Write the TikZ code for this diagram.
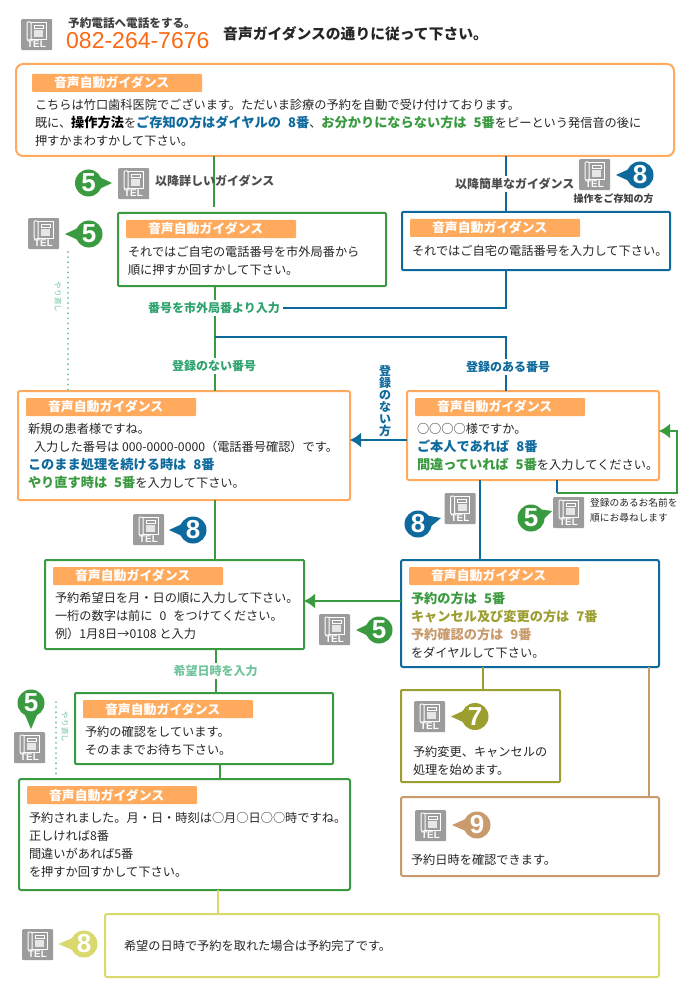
\documentclass[tikz,border=0pt]{standalone}
\usepackage{fontspec}
\setmainfont{Noto Sans CJK JP}
\newfontfamily\latinfont{Liberation Sans}
\usetikzlibrary{calc,arrows.meta}
\definecolor{cOrange}{HTML}{FFAA5C}
\definecolor{cGreen}{HTML}{3A9A3F}
\definecolor{cBlue}{HTML}{0E6A9C}
\definecolor{cOlive}{HTML}{9C9E30}
\definecolor{cTan}{HTML}{C89A6C}
\definecolor{cYellow}{HTML}{DAD96E}
\definecolor{cTeal}{HTML}{2FA36E}
\definecolor{cPale}{HTML}{72C49C}
\definecolor{cIcon}{HTML}{9C9C9C}
\definecolor{cPhone}{HTML}{FA6A14}
\newcommand{\strongtxt}[2]{{\fontsize{13.2}{18}\selectfont\bfseries\color{#1}#2}}
\newcommand{\bl}[1]{\strongtxt{cBlue}{#1}}
\newcommand{\gr}[1]{\strongtxt{cGreen}{#1}}
\newcommand{\gp}{\hspace{7pt}}
\tikzset{
  x=1pt,y=-1pt,
  flowbox/.style={draw=#1,line width=2pt,fill=white,inner sep=0pt,outer sep=0pt,rounded corners=1pt},
  tagbox/.style={fill=cOrange,rounded corners=1pt,inner sep=0pt,outer sep=0pt,minimum width=170pt,minimum height=18pt,
    text=white,font=\fontsize{12.9}{14}\selectfont\bfseries,text width=170pt,align=left},
  bodytext/.style={anchor=north west,inner sep=0pt,outer sep=0pt,align=left,font=\fontsize{12.2}{18}\selectfont,text=black!85},
  hint/.style={inner sep=0pt,font=\fontsize{12}{14}\selectfont\bfseries,text=#1},
  whitehint/.style={hint=#1,fill=white,inner xsep=3pt,inner ysep=2pt},
  conn/.style={draw=#1,line width=2pt},
  arrowconn/.style={draw=#1,line width=2pt,-{Latex[length=11pt,width=15pt]}},
  retry/.style={draw=cPale,line width=2pt,line cap=round,dash pattern=on 0.1pt off 5pt},
  retrytext/.style={inner sep=0pt,rotate=-90,font=\fontsize{7.6}{9}\selectfont,text=cPale},
  smallnote/.style={inner sep=0pt,anchor=west,font=\fontsize{9.7}{11}\selectfont,text=black!85},
}
% name, x1, y1, x2, y2, colour, corner radius
\newcommand{\flowbox}[7]{%
  \pgfmathsetmacro{\bw}{#4-#2}\pgfmathsetmacro{\bh}{#5-#3}%
  \node[flowbox=#6,rounded corners=#7,anchor=north west,minimum width=\bw pt,minimum height=\bh pt] (#1) at (#2,#3) {};}
% name, x, y
\newcommand{\tagbox}[3]{\node[tagbox,anchor=north west] (#1) at (#2,#3) {\hspace*{22pt}音声自動ガイダンス};}
% name, x, y
\newcommand{\telicon}[3]{%
  \node[fill=cIcon,rounded corners=1pt,inner sep=0pt,anchor=north west,minimum size=31pt] (#1) at (#2,#3) {};
  \begin{scope}[shift={(#1.north west)}]
    \draw[white,line width=1pt,rounded corners=1pt] (6,3) rectangle (10,21);
    \draw[white,line width=1pt] (10,3.5) -- (25,3.5) -- (25,20.5) -- (10,20.5);
    \draw[white,line width=0.8pt] (13,6) rectangle (22,9);
    \fill[white,opacity=.75] (13,11) rectangle (22,18);
  \end{scope}
  \node[inner sep=0pt,text=white,font=\latinfont\fontsize{9.8}{10}\selectfont\bfseries] (#1-t) at ($(#1.north west)+(15.5,25.5)$) {TEL};}
% name, cx, cy, tipx, tipy, digit, colour
\newcommand{\badge}[7]{%
  \coordinate (#1-tip) at (#4,#5);
  \coordinate (#1-c) at (#2,#3);
  \fill[#7] (#1-tip) -- ($(#1-c)!11pt!90:(#1-tip)$) -- ($(#1-c)!11pt!-90:(#1-tip)$) -- cycle;
  \node[circle,fill=#7,minimum size=27pt,inner sep=0pt,text=white,font=\latinfont\fontsize{26}{26}\selectfont\bfseries] (#1) at (#1-c) {#6};}
\begin{document}
\begin{tikzpicture}
\useasboundingbox (0,0) rectangle (690,1000);
\fill[white] (0,0) rectangle (690,1000);
% vertical guide positions
\coordinate (xa) at (213.5,0);
\coordinate (xb) at (505.5,0);
\coordinate (xc) at (480,0);
\coordinate (xd) at (214.5,0);
\coordinate (xe) at (215.5,0);
\coordinate (xf) at (219.5,0);
\coordinate (xg) at (218,0);
\coordinate (xh) at (483,0);
\coordinate (xi) at (649,0);
\coordinate (xj) at (557,0);
\coordinate (xk) at (677,0);
\coordinate (xl) at (68,0);
\coordinate (xm) at (56,0);
\coordinate (ya) at (0,207);
\coordinate (yb) at (0,308);
\coordinate (yc) at (0,337);
\coordinate (yd) at (0,493);
\coordinate (ye) at (0,431);
\coordinate (yf) at (0,440);
\coordinate (yg) at (0,601);
\coordinate (yh) at (0,252);
\coordinate (yi) at (0,702);
\coordinate (yj) at (0,778);
% boxes
\flowbox{top}{16}{64}{674}{156}{cOrange}{7pt}
\flowbox{gone}{118}{213}{386}{286}{cGreen}{1pt}
\flowbox{bone}{402}{212}{670}{270}{cBlue}{1pt}
\flowbox{onew}{18}{391}{350}{500}{cOrange}{2pt}
\flowbox{oreg}{407}{391}{659}{480}{cOrange}{2pt}
\flowbox{gdate}{45}{560}{304}{649}{cGreen}{1pt}
\flowbox{bmenu}{401}{560}{659}{667}{cBlue}{2pt}
\flowbox{gwait}{75}{693}{333}{764}{cGreen}{1pt}
\flowbox{gconf}{19}{779}{350}{890}{cGreen}{2pt}
\flowbox{ochg}{401}{690}{560}{782}{cOlive}{1pt}
\flowbox{tchk}{401}{797}{659}{876}{cTan}{2pt}
\flowbox{yend}{105}{914}{659}{977}{cYellow}{2pt}
% connectors
\draw[conn=cGreen] (top.south -| xa) -- (ya -| xa);
\draw[conn=cBlue] (top.south -| xb) -- (bone.north -| xb);
\draw[conn=cGreen] (gone.south -| xd) -- (onew.north -| xd);
\draw[conn=cBlue] (bone.south -| xb) -- (yb -| xb) -- (yb -| xd);
\draw[conn=cBlue] (yc -| xd) -- (yc -| xb) -- (oreg.north -| xb);
\draw[arrowconn=cBlue] (oreg.west |- yf) -- (onew.east |- yf);
\draw[conn=cBlue] (oreg.south -| xc) -- (bmenu.north -| xc);
\draw[conn=cBlue] (oreg.south -| xj) -- (yd -| xj);
\draw[arrowconn=cGreen] (yd -| xj) -- (yd -| xk) -- (ye -| xk) -- (oreg.east |- ye);
\draw[conn=cGreen] (onew.south -| xd) -- (gdate.north -| xd);
\draw[arrowconn=cGreen] (bmenu.west |- yg) -- (gdate.east |- yg);
\draw[conn=cGreen] (gdate.south -| xe) -- (gwait.north -| xe);
\draw[conn=cGreen] (gwait.south -| xf) -- (gconf.north -| xf);
\draw[conn=cYellow] (gconf.south -| xg) -- (yend.north -| xg);
\draw[conn=cOlive] (bmenu.south -| xh) -- (ochg.north -| xh);
\draw[conn=cTan] (bmenu.south -| xi) -- (tchk.north -| xi);
\draw[retry] (yh -| xl) -- (onew.north -| xl);
\draw[retry] (yi -| xm) -- (yj -| xm);
% header
\telicon{thead}{21}{19}
\node[inner sep=0pt,anchor=west,font=\fontsize{11.6}{13}\selectfont\bfseries,text=black!75] (hcall) at (68,23) {予約電話へ電話をする。};
\node[inner sep=0pt,anchor=west,font=\latinfont\fontsize{23}{25}\selectfont,text=cPhone] (hnum) at (66,41) {082-264-7676};
\node[inner sep=0pt,anchor=west,font=\fontsize{14.8}{18}\selectfont\bfseries,text=black!85] (htitle) at (223,34) {音声ガイダンスの通りに従って下さい。};
% tags
\tagbox{ttop}{32}{74}
\tagbox{tgone}{126}{220}
\tagbox{tbone}{410}{219}
\tagbox{tonew}{26}{398}
\tagbox{toreg}{415}{398}
\tagbox{tgdate}{53}{567}
\tagbox{tbmenu}{409}{567}
\tagbox{tgwait}{83}{700}
\tagbox{tgconf}{27}{786}
% body texts
\node[bodytext] (xtop) at (35,99) {こちらは竹口歯科医院でございます。ただいま診療の予約を自動で受け付けております。\\既に、\strongtxt{black}{操作方法}を\bl{ご存知の方はダイヤルの\gp 8番}、\gr{お分かりにならない方は\gp 5番}をピーという発信音の後に\\押すかまわすかして下さい。};
\node[bodytext] (xgone) at (128,246) {それではご自宅の電話番号を市外局番から\\順に押すか回すかして下さい。};
\node[bodytext] (xbone) at (412,245) {それではご自宅の電話番号を入力して下さい。};
\node[bodytext] (xonew) at (28,423) {新規の患者様ですね。\\\hspace*{6pt}入力した番号は 000-0000-0000（電話番号確認）です。\\\bl{このまま処理を続ける時は\gp 8番}\\\gr{やり直す時は\gp 5番}を入力して下さい。};
\node[bodytext] (xoreg) at (417,423) {○○○○様ですか。\\\bl{ご本人であれば\gp 8番}\\\gr{間違っていれば\gp 5番}を入力してください。};
\node[bodytext] (xgdate) at (55,592) {予約希望日を月・日の順に入力して下さい。\\一桁の数字は前に\gp 0\gp をつけてください。\\例）1月8日→0108 と入力};
\node[bodytext] (xbmenu) at (411,592) {\gr{予約の方は\gp 5番}\\\strongtxt{cOlive}{キャンセル及び変更の方は\gp 7番}\\\strongtxt{cTan}{予約確認の方は\gp 9番}\\をダイヤルして下さい。};
\node[bodytext] (xgwait) at (85,726) {予約の確認をしています。\\そのままでお待ち下さい。};
\node[bodytext] (xgconf) at (29,812) {予約されました。月・日・時刻は○月○日○○時ですね。\\正しければ8番\\間違いがあれば5番\\を押すか回すかして下さい。};
\node[bodytext] (xochg) at (413,746) {予約変更、キャンセルの\\処理を始めます。};
\node[bodytext] (xtchk) at (411,854) {予約日時を確認できます。};
\node[bodytext] (xyend) at (124,940) {希望の日時で予約を取れた場合は予約完了です。};
% connector labels
\node[hint=black!70,anchor=west] (ldetail) at (155,181) {以降詳しいガイダンス};
\node[whitehint=black!70,anchor=west,inner xsep=0pt] (lsimple) at (455,184) {以降簡単なガイダンス};
\node[inner sep=0pt,font=\fontsize{10}{11}\selectfont\bfseries,text=black!75] (lknow) at (613.5,199) {操作をご存知の方};
\node[whitehint=cTeal] (lnum) at (214,308) {番号を市外局番より入力};
\node[whitehint=cTeal] (lnone) at (214,366) {登録のない番号};
\node[whitehint=cBlue] (lhave) at (508,367) {登録のある番号};
\node[inner sep=0pt,align=center,font=\fontsize{12}{12}\selectfont\bfseries,text=cBlue] (lvert) at (385,401) {登\\録\\の\\な\\い\\方};
\node[smallnote] (lreg1) at (590,503) {登録のあるお名前を};
\node[smallnote] (lreg2) at (590,518) {順にお尋ねします};
\node[whitehint=cPale] (ldate) at (215.5,671) {希望日時を入力};
\node[retrytext] (lre1) at (58,297) {やり直し};
\node[retrytext] (lre2) at (65,727) {やり直し};
% phone icons
\telicon{ta}{118}{168}
\telicon{tb}{579}{159}
\telicon{tc}{28}{218}
\telicon{td}{444.5}{493}
\telicon{te}{553}{497}
\telicon{tf}{133}{514}
\telicon{tg}{319}{614}
\telicon{th}{14}{732}
\telicon{ti}{414}{701}
\telicon{tj}{415}{810}
\telicon{tk}{22}{929}
% number badges
\badge{ba}{88.5}{183}{112}{183}{5}{cGreen}
\badge{bb}{640}{175}{616}{175}{8}{cBlue}
\badge{bc}{89}{234}{65}{234}{5}{cGreen}
\badge{bd}{193}{530}{169}{530}{8}{cBlue}
\badge{be}{418}{524}{441}{518}{8}{cBlue}
\badge{bf}{531}{518}{552}{511}{5}{cGreen}
\badge{bg}{379}{630}{356}{630}{5}{cGreen}
\badge{bh}{31}{703}{31}{729}{5}{cGreen}
\badge{bi}{475}{716.5}{451}{716.5}{7}{cOlive}
\badge{bj}{477}{825}{452}{825}{9}{cTan}
\badge{bk}{84}{944}{58.5}{944}{8}{cYellow}
\end{tikzpicture}
\end{document}
